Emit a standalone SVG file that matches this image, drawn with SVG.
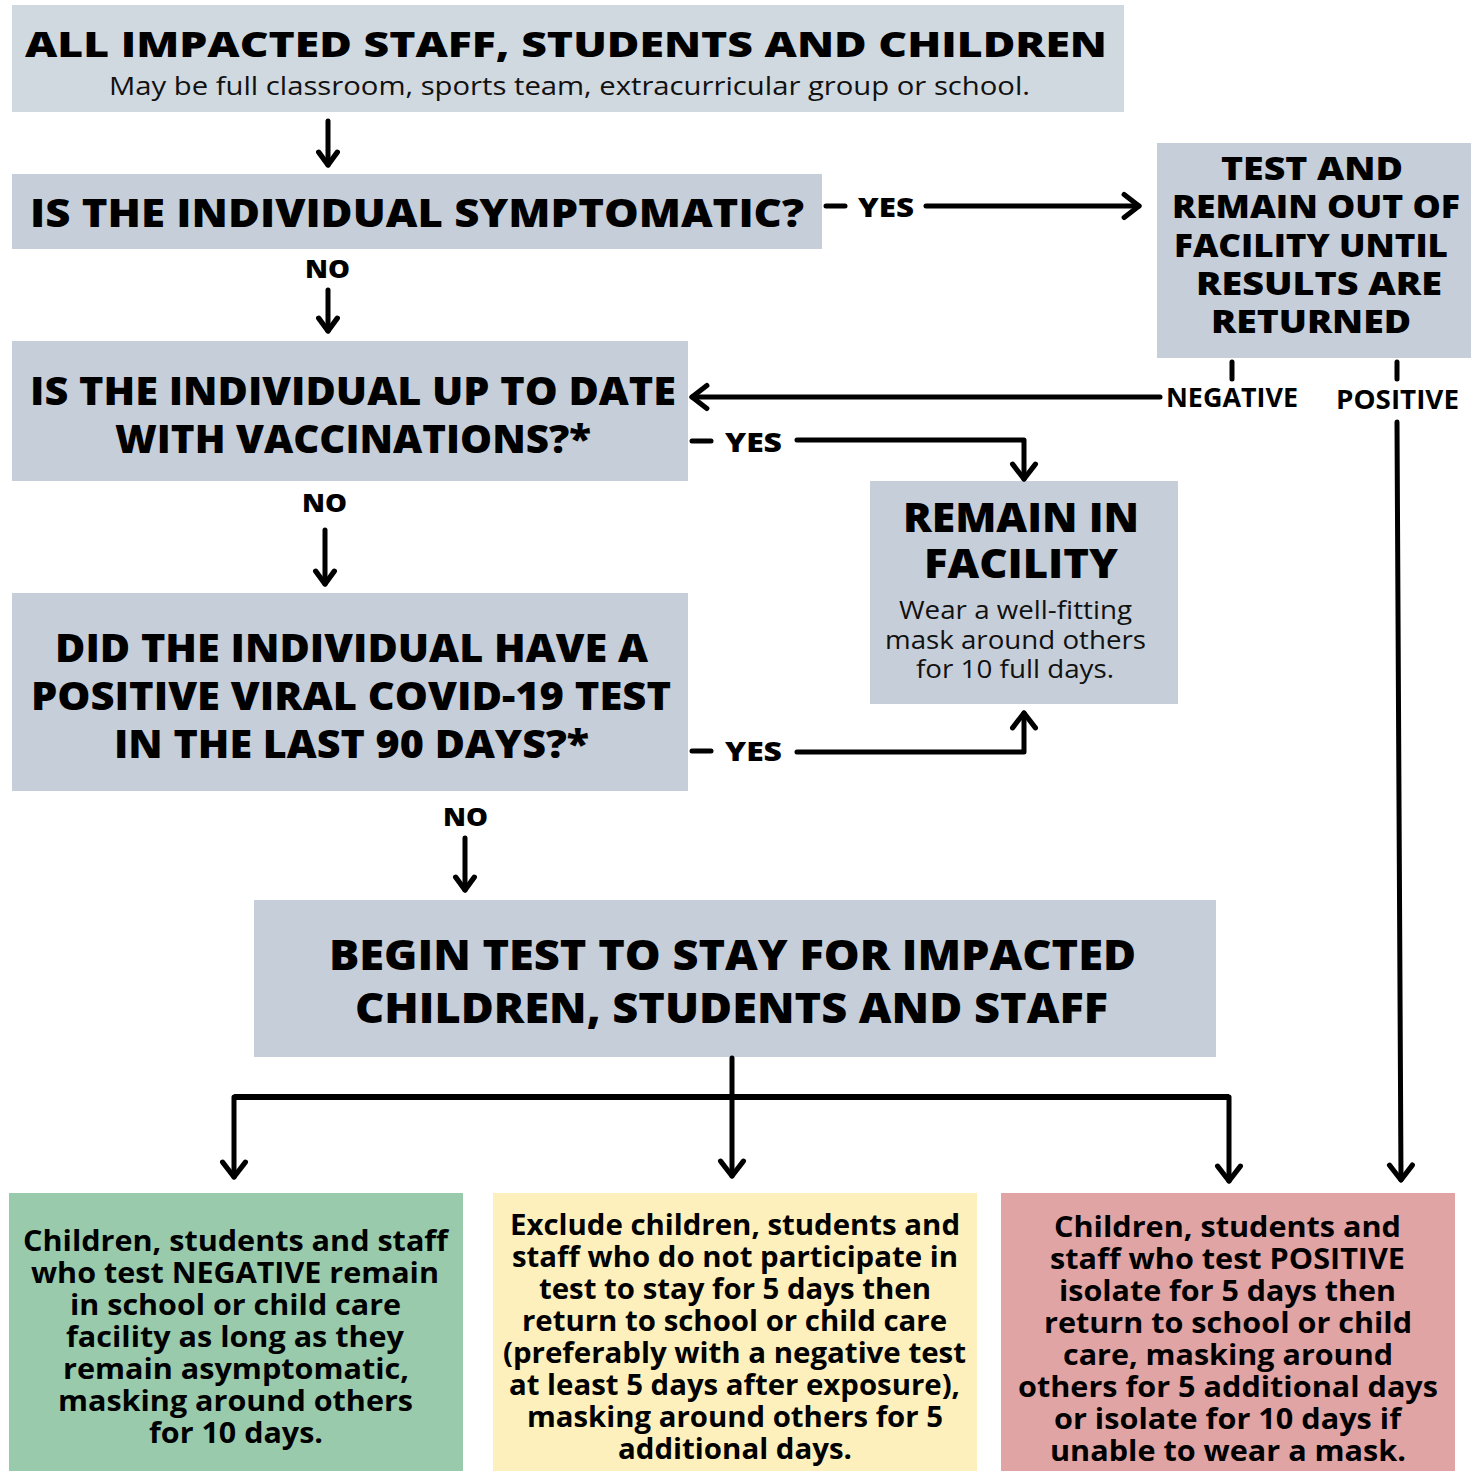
<svg xmlns="http://www.w3.org/2000/svg" width="1478" height="1471" viewBox="0 0 1478 1471">
<style>
.h{font-family:"Open Sans","Liberation Sans",sans-serif;font-weight:800;fill:#000}
.s{font-family:"Open Sans","Liberation Sans",sans-serif;font-weight:400;fill:#111}
.b{font-family:"Open Sans","Liberation Sans",sans-serif;font-weight:700;fill:#000;font-size:28px}
.l{font-family:"Open Sans","Liberation Sans",sans-serif;font-weight:700;fill:#000;font-size:27px}
.box{fill:#c6ced9}
.ln{fill:none;stroke:#000;stroke-width:5;stroke-linecap:round;stroke-linejoin:round}
.ar{marker-end:url(#ah)}
.as{marker-end:url(#ahs)}
</style>
<defs>
<marker id="ah" markerUnits="userSpaceOnUse" markerWidth="32" markerHeight="32" viewBox="-18 -14 22 28" refX="0" refY="0" orient="auto">
<path d="M-13,-10 L0,0 L-13,10" fill="none" stroke="#000" stroke-width="4.5" stroke-linecap="round" stroke-linejoin="round"/>
</marker>
<marker id="ahs" markerUnits="userSpaceOnUse" markerWidth="28" markerHeight="28" viewBox="-16 -12 20 24" refX="0" refY="0" orient="auto">
<path d="M-11,-8 L0,0 L-11,8" fill="none" stroke="#000" stroke-width="4.5" stroke-linecap="round" stroke-linejoin="round"/>
</marker>
</defs>
<rect width="1478" height="1471" fill="#fff"/>

<g id="n1">
<rect x="12" y="5" width="1112" height="107" fill="#d0d8e0"/>
<text class="h" x="25" y="57" font-size="36" textLength="1082" lengthAdjust="spacingAndGlyphs">ALL IMPACTED STAFF, STUDENTS AND CHILDREN</text>
<text class="s" x="109" y="95" font-size="25" textLength="921" lengthAdjust="spacingAndGlyphs">May be full classroom, sports team, extracurricular group or school.</text>
</g>

<g id="n2">
<rect class="box" x="12" y="174" width="810" height="75"/>
<text class="h" x="30" y="227" font-size="39" textLength="774" lengthAdjust="spacingAndGlyphs">IS THE INDIVIDUAL SYMPTOMATIC?</text>
</g>

<g id="n3">
<rect class="box" x="1157" y="143" width="314" height="215"/>
<text class="h" x="1221" y="180" font-size="31" textLength="182" lengthAdjust="spacingAndGlyphs">TEST AND</text>
<text class="h" x="1172" y="218" font-size="31" textLength="288" lengthAdjust="spacingAndGlyphs">REMAIN OUT OF</text>
<text class="h" x="1174" y="257" font-size="31" textLength="274" lengthAdjust="spacingAndGlyphs">FACILITY UNTIL</text>
<text class="h" x="1196" y="295" font-size="31" textLength="246" lengthAdjust="spacingAndGlyphs">RESULTS ARE</text>
<text class="h" x="1211" y="333" font-size="31" textLength="200" lengthAdjust="spacingAndGlyphs">RETURNED</text>
</g>

<g id="n4">
<rect class="box" x="12" y="341" width="676" height="140"/>
<text class="h" x="30" y="405" font-size="39" textLength="646" lengthAdjust="spacingAndGlyphs">IS THE INDIVIDUAL UP TO DATE</text>
<text class="h" x="115" y="453" font-size="39" textLength="476" lengthAdjust="spacingAndGlyphs">WITH VACCINATIONS?*</text>
</g>

<g id="n5">
<rect class="box" x="870" y="481" width="308" height="223"/>
<text class="h" x="903" y="532" font-size="40" textLength="236" lengthAdjust="spacingAndGlyphs">REMAIN IN</text>
<text class="h" x="924" y="578" font-size="40" textLength="194" lengthAdjust="spacingAndGlyphs">FACILITY</text>
<text class="s" x="899" y="619" font-size="25" textLength="233" lengthAdjust="spacingAndGlyphs">Wear a well-fitting</text>
<text class="s" x="885" y="649" font-size="25" textLength="261" lengthAdjust="spacingAndGlyphs">mask around others</text>
<text class="s" x="916" y="678" font-size="25" textLength="198" lengthAdjust="spacingAndGlyphs">for 10 full days.</text>
</g>

<g id="n6">
<rect class="box" x="12" y="593" width="676" height="198"/>
<text class="h" x="55" y="662" font-size="38" textLength="593" lengthAdjust="spacingAndGlyphs">DID THE INDIVIDUAL HAVE A</text>
<text class="h" x="31" y="710" font-size="38" textLength="640" lengthAdjust="spacingAndGlyphs">POSITIVE VIRAL COVID-19 TEST</text>
<text class="h" x="114" y="758" font-size="38" textLength="475" lengthAdjust="spacingAndGlyphs">IN THE LAST 90 DAYS?*</text>
</g>

<g id="n7">
<rect class="box" x="254" y="900" width="962" height="157"/>
<text class="h" x="329" y="970" font-size="42" textLength="807" lengthAdjust="spacingAndGlyphs">BEGIN TEST TO STAY FOR IMPACTED</text>
<text class="h" x="355" y="1023" font-size="42" textLength="753" lengthAdjust="spacingAndGlyphs">CHILDREN, STUDENTS AND STAFF</text>
</g>

<g id="n8">
<rect x="9" y="1193" width="454" height="278" fill="#99caac"/>
<text class="b" x="23" y="1251" textLength="425" lengthAdjust="spacingAndGlyphs">Children, students and staff</text>
<text class="b" x="31" y="1283" textLength="408" lengthAdjust="spacingAndGlyphs">who test NEGATIVE remain</text>
<text class="b" x="70" y="1315" textLength="331" lengthAdjust="spacingAndGlyphs">in school or child care</text>
<text class="b" x="66" y="1347" textLength="338" lengthAdjust="spacingAndGlyphs">facility as long as they</text>
<text class="b" x="63" y="1379" textLength="346" lengthAdjust="spacingAndGlyphs">remain asymptomatic,</text>
<text class="b" x="58" y="1411" textLength="355" lengthAdjust="spacingAndGlyphs">masking around others</text>
<text class="b" x="149" y="1443" textLength="174" lengthAdjust="spacingAndGlyphs">for 10 days.</text>
</g>

<g id="n9">
<rect x="493" y="1193" width="484" height="278" fill="#fdf0bd"/>
<text class="b" x="510" y="1235" textLength="450" lengthAdjust="spacingAndGlyphs">Exclude children, students and</text>
<text class="b" x="512" y="1267" textLength="446" lengthAdjust="spacingAndGlyphs">staff who do not participate in</text>
<text class="b" x="539" y="1299" textLength="392" lengthAdjust="spacingAndGlyphs">test to stay for 5 days then</text>
<text class="b" x="522" y="1331" textLength="425" lengthAdjust="spacingAndGlyphs">return to school or child care</text>
<text class="b" x="503" y="1363" textLength="463" lengthAdjust="spacingAndGlyphs">(preferably with a negative test</text>
<text class="b" x="509" y="1395" textLength="451" lengthAdjust="spacingAndGlyphs">at least 5 days after exposure),</text>
<text class="b" x="527" y="1427" textLength="416" lengthAdjust="spacingAndGlyphs">masking around others for 5</text>
<text class="b" x="618" y="1459" textLength="234" lengthAdjust="spacingAndGlyphs">additional days.</text>
</g>

<g id="n10">
<rect x="1001" y="1193" width="454" height="278" fill="#e0a4a4"/>
<text class="b" x="1054" y="1237" textLength="347" lengthAdjust="spacingAndGlyphs">Children, students and</text>
<text class="b" x="1050" y="1269" textLength="355" lengthAdjust="spacingAndGlyphs">staff who test POSITIVE</text>
<text class="b" x="1059" y="1301" textLength="337" lengthAdjust="spacingAndGlyphs">isolate for 5 days then</text>
<text class="b" x="1044" y="1333" textLength="368" lengthAdjust="spacingAndGlyphs">return to school or child</text>
<text class="b" x="1063" y="1365" textLength="330" lengthAdjust="spacingAndGlyphs">care, masking around</text>
<text class="b" x="1018" y="1397" textLength="420" lengthAdjust="spacingAndGlyphs">others for 5 additional days</text>
<text class="b" x="1054" y="1429" textLength="347" lengthAdjust="spacingAndGlyphs">or isolate for 10 days if</text>
<text class="b" x="1050" y="1461" textLength="356" lengthAdjust="spacingAndGlyphs">unable to wear a mask.</text>
</g>

<g id="connectors">
<path class="ln as" d="M328,121 V165"/>
<path class="ln as" d="M328,290 V331"/>
<path class="ln as" d="M325,530 V584"/>
<path class="ln as" d="M465,838 V890"/>
<path class="ln" d="M826,206 H845"/>
<path class="ln ar" d="M926,206 H1139"/>
<path class="ln ar" d="M1160,397 H692"/>
<path class="ln" d="M692,441 H711"/>
<path class="ln ar" d="M797,440 H1024 V479"/>
<path class="ln" d="M692,751 H711"/>
<path class="ln ar" d="M797,752 H1024 V713"/>
<path class="ln" d="M1232,362 V379"/>
<path class="ln" d="M1397,362 V379"/>
<path class="ln ar" d="M1397,422 L1401,1180"/>
<path class="ln ar" d="M732,1058 V1176"/>
<path fill="none" stroke="#000" stroke-width="6" d="M234,1097 H1229"/>
<path class="ln ar" d="M234,1097 V1177"/>
<path class="ln ar" d="M1229,1097 V1181"/>
<text class="h" x="858" y="217" font-size="26" textLength="56" lengthAdjust="spacingAndGlyphs">YES</text>
<text class="h" x="725" y="452" font-size="26" textLength="57" lengthAdjust="spacingAndGlyphs">YES</text>
<text class="h" x="725" y="761" font-size="26" textLength="57" lengthAdjust="spacingAndGlyphs">YES</text>
<text class="h" x="305" y="278" font-size="25" textLength="45" lengthAdjust="spacingAndGlyphs">NO</text>
<text class="h" x="302" y="512" font-size="25" textLength="45" lengthAdjust="spacingAndGlyphs">NO</text>
<text class="h" x="443" y="826" font-size="25" textLength="45" lengthAdjust="spacingAndGlyphs">NO</text>
<text class="l" x="1166" y="407" textLength="132" lengthAdjust="spacingAndGlyphs">NEGATIVE</text>
<text class="l" x="1336" y="409" textLength="123" lengthAdjust="spacingAndGlyphs">POSITIVE</text>
</g>
</svg>
